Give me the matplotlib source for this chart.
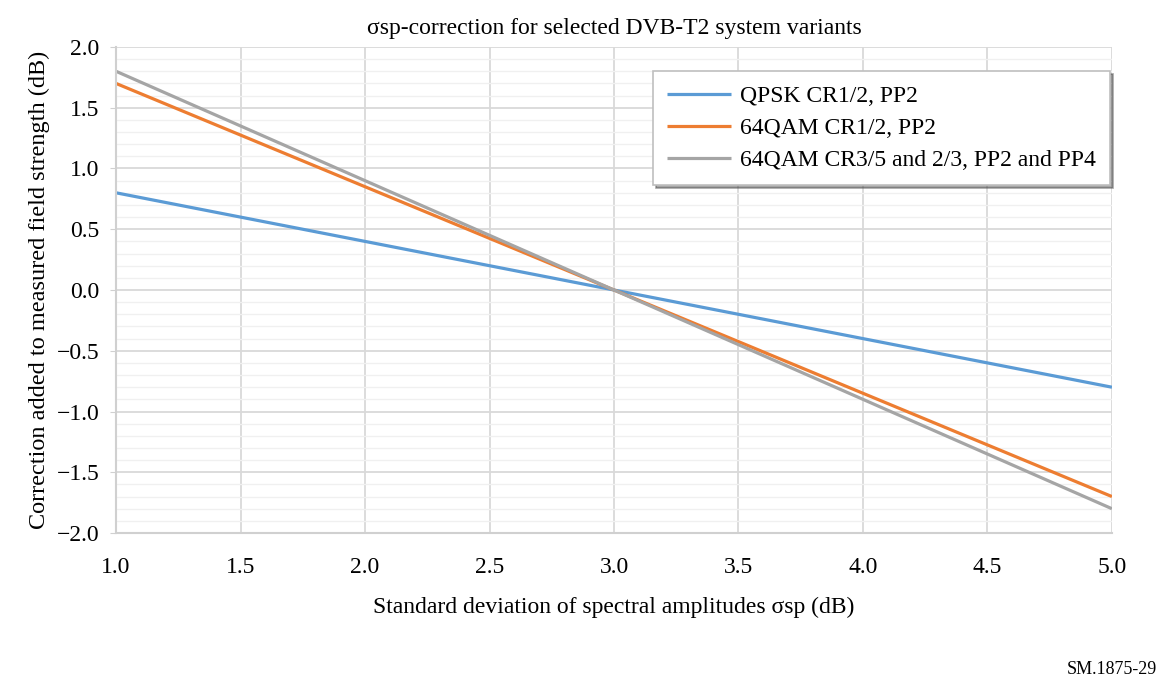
import matplotlib
matplotlib.use("Agg")
import matplotlib.pyplot as plt
import numpy as np
from matplotlib.ticker import MultipleLocator

x_vals = [1.0, 3.0, 5.0]
qpsk = [0.8, 0.0, -0.8]
qam64_12 = [1.7, 0.0, -1.7]
qam64_35 = [1.8, 0.0, -1.8]
labels = ["QPSK CR1/2, PP2", "64QAM CR1/2, PP2", "64QAM CR3/5 and 2/3, PP2 and PP4"]
colors = ["#5B9BD5", "#ED7D31", "#A5A5A5"]

plt.rcParams['font.family'] = ['Liberation Serif', 'DejaVu Serif']

fig = plt.figure(figsize=(11.64, 6.90), dpi=100)
ax = fig.add_axes([0.0997, 0.2275, 0.8556, 0.7044])

for ys, lab, c in zip([qpsk, qam64_12, qam64_35], labels, colors):
    ax.plot(x_vals, ys, color=c, lw=2.3, label=lab, solid_capstyle='butt')

ax.set_xlim(1.0, 5.0)
ax.set_ylim(-2.0, 2.0)
ax.xaxis.set_major_locator(MultipleLocator(0.5))
ax.yaxis.set_major_locator(MultipleLocator(0.5))
ax.yaxis.set_minor_locator(MultipleLocator(0.1))
ax.xaxis.set_major_formatter(matplotlib.ticker.FormatStrFormatter('%.1f'))
ax.yaxis.set_major_formatter(matplotlib.ticker.FuncFormatter(lambda v, p: ('\u2212%.1f' % -v) if v < -1e-9 else '%.1f' % abs(v)))
ax.grid(which='major', color='#D9D9D9', lw=1.3)
ax.grid(which='minor', axis='y', color='#F0F0F0', lw=1.0)
ax.set_axisbelow(True)
for s in ['top', 'right']:
    ax.spines[s].set_visible(False)
ax.spines['left'].set_color('#D0D0D0')
ax.spines['bottom'].set_color('#D0D0D0')
ax.spines['left'].set_linewidth(1.5)
ax.spines['bottom'].set_linewidth(1.5)
ax.tick_params(axis='y', which='major', length=4, color='#D0D0D0', labelsize=17, pad=8)
ax.tick_params(axis='y', which='minor', length=0)
ax.tick_params(axis='x', which='major', length=0, labelsize=17, pad=17)

ax.set_title("\u03c3sp-correction for selected DVB-T2 system variants", fontsize=17, pad=9)
ax.set_xlabel("Standard deviation of spectral amplitudes \u03c3sp (dB)", fontsize=17, labelpad=14)
ax.set_ylabel("Correction added to measured field strength (dB)", fontsize=17.5, labelpad=5)

leg = ax.legend(loc='upper right', bbox_to_anchor=(0.9985, 0.95), fontsize=17, frameon=True,
                fancybox=False, shadow=True, edgecolor='#BFBFBF', handlelength=2.7,
                handletextpad=0.4, borderpad=0.6, labelspacing=0.45, borderaxespad=0)
leg.get_frame().set_linewidth(1.2)

fig.text(0.994, 0.018, "SM.1875-29", ha='right', va='bottom', fontsize=13)

fig.savefig("out.png", dpi=100)
